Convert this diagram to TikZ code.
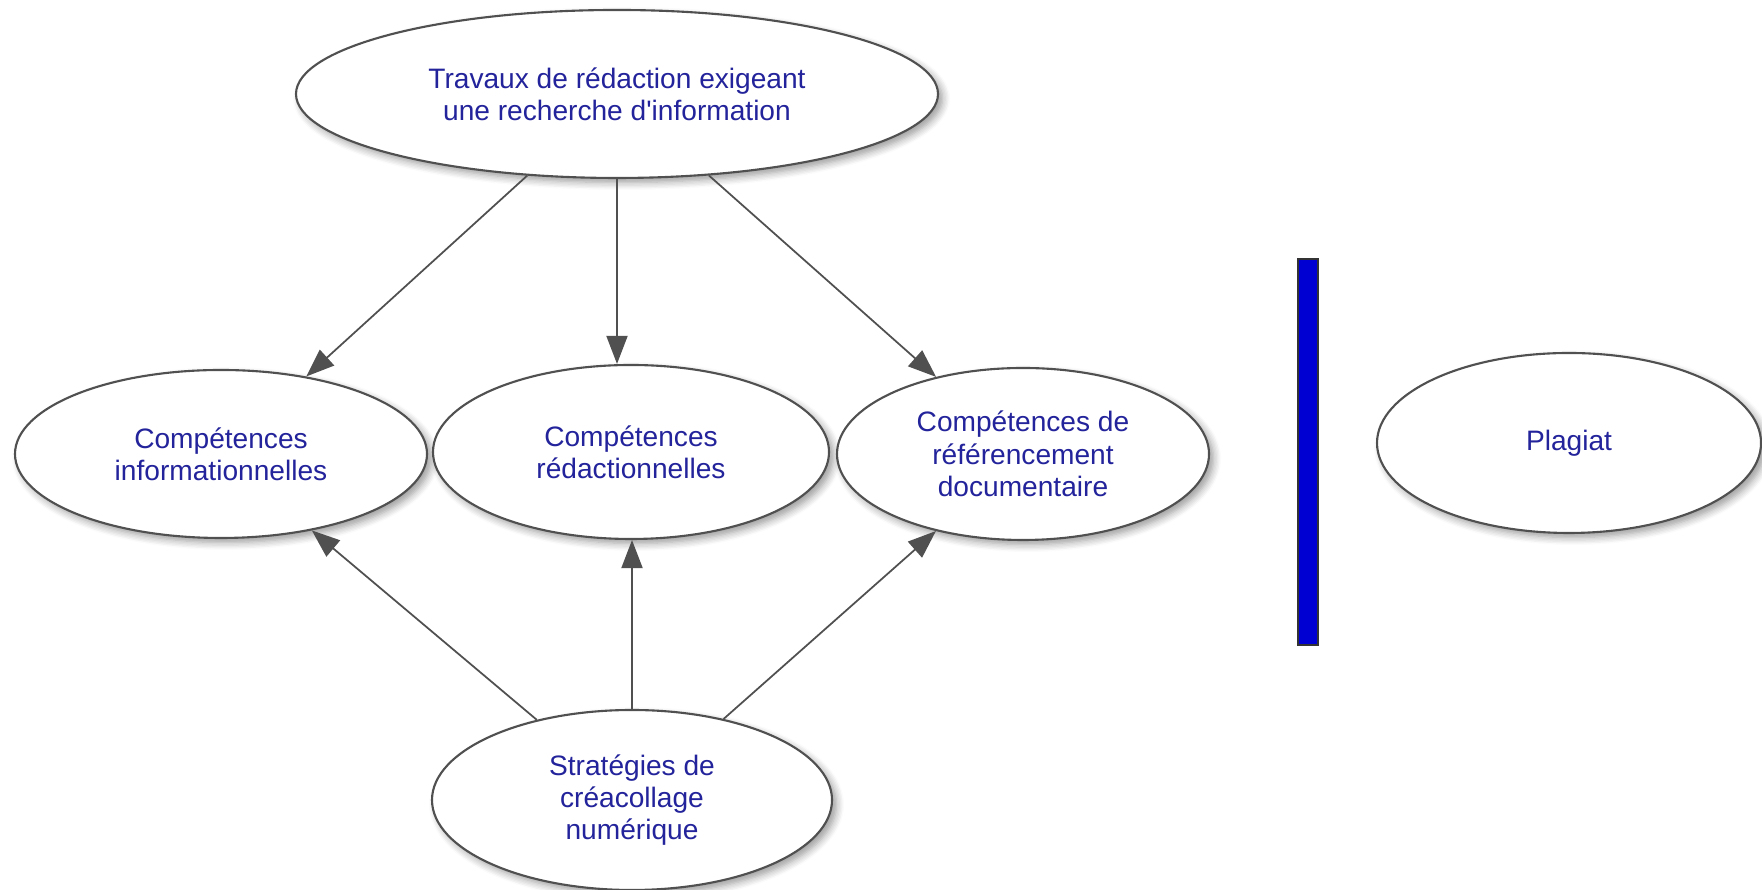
\documentclass[tikz,border=0pt]{standalone}
\usepackage{fontspec}
\setmainfont{Liberation Sans}
\usepackage{tikz}
\usetikzlibrary{shapes.geometric}
\usetikzlibrary{arrows.meta}
\usetikzlibrary{shadows.blur}
\definecolor{txtblue}{RGB}{35,35,155}
\definecolor{linegray}{RGB}{80,80,80}
\definecolor{barblue}{RGB}{0,0,210}

\begin{document}
\begin{tikzpicture}[
    bubble/.style={ellipse, draw=linegray, line width=0.6pt, fill=white, inner sep=0pt,
      text=txtblue, align=center, font=\fontsize{8}{9.2}\selectfont,
      blur shadow={shadow xshift=1.3pt, shadow yshift=-1.3pt, shadow blur steps=6}},
    link/.style={draw=linegray, line width=0.5pt, -{Triangle[length=8pt,width=6pt]}}
  ]
  \useasboundingbox (0,0) rectangle (17.62,8.90);
  \node[bubble, minimum width=6.42cm, minimum height=1.68cm] (travaux) at (6.17,7.96)
    {Travaux de rédaction exigeant\\une recherche d\textquotesingle information};
  \node[bubble, minimum width=4.12cm, minimum height=1.68cm] (info) at (2.21,4.36)
    {Compétences\\informationnelles};
  \node[bubble, minimum width=3.96cm, minimum height=1.74cm] (redac) at (6.31,4.38)
    {Compétences\\rédactionnelles};
  \node[bubble, minimum width=3.72cm, minimum height=1.72cm] (refer) at (10.23,4.36)
    {Compétences de\\référencement\\documentaire};
  \node[bubble, minimum width=4.00cm, minimum height=1.80cm] (strat) at (6.32,0.90)
    {Stratégies de\\créacollage\\numérique};
  \node[bubble, minimum width=3.84cm, minimum height=1.80cm] (plagiat) at (15.69,4.47)
    {Plagiat};
  \draw[link] (travaux) -- (info);
  \draw[link] (travaux.south) -- (travaux.south |- redac.north);
  \draw[link] (travaux) -- (refer);
  \draw[link] (strat) -- (info);
  \draw[link] (strat.north) -- (strat.north |- redac.south);
  \draw[link] (strat) -- (refer);
  \draw[draw=black!80, fill=barblue, line width=0.4pt] (12.98,2.45) rectangle (13.18,6.31);
\end{tikzpicture}
\end{document}
